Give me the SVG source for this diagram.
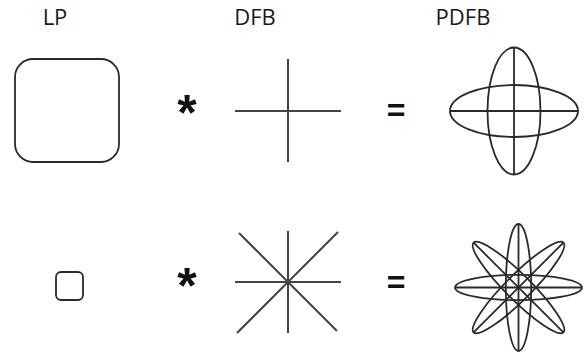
<svg xmlns="http://www.w3.org/2000/svg" width="586" height="356" viewBox="0 0 586 356">
  <style>
    .label { font-family: "Open Sans", "Liberation Sans", sans-serif; font-size: 22px; fill: #1a1a1a; text-anchor: middle; }
    .op { font-family: "Liberation Sans", Arial, sans-serif; font-weight: bold; fill: #111; text-anchor: middle; }
    .shape { fill: none; stroke: #2a2a2a; stroke-width: 1.8; }
    .ray { fill: none; stroke: #444; stroke-width: 2; }
  </style>
  <rect width="586" height="356" fill="#ffffff"/>

  <!-- column headings -->
  <g id="headings">
    <text class="label" x="55" y="25">LP</text>
    <text class="label" x="255" y="25">DFB</text>
    <text class="label" x="463" y="25">PDFB</text>
  </g>

  <!-- top row -->
  <g id="lp-large">
    <rect class="shape" x="15" y="59" width="104" height="103" rx="18"/>
  </g>
  <g id="op-conv-1">
    <text class="op" x="187" y="130" font-size="50">*</text>
  </g>
  <g id="dfb-cross">
    <line class="ray" x1="288" y1="59" x2="288" y2="162"/>
    <line class="ray" x1="235" y1="111" x2="341" y2="111"/>
  </g>
  <g id="op-eq-1">
    <text class="op" x="396" y="121" font-size="32">=</text>
  </g>
  <g id="pdfb-4">
    <ellipse class="shape" cx="514" cy="111" rx="26.5" ry="63.5"/>
    <ellipse class="shape" cx="514" cy="111" rx="64" ry="26"/>
    <line class="shape" x1="514" y1="47.5" x2="514" y2="174.5"/>
    <line class="shape" x1="450" y1="111" x2="578" y2="111"/>
  </g>

  <!-- bottom row -->
  <g id="lp-small">
    <rect class="shape" x="56" y="272" width="27" height="28" rx="5"/>
  </g>
  <g id="op-conv-2">
    <text class="op" x="187" y="303" font-size="50">*</text>
  </g>
  <g id="dfb-star">
    <line class="ray" x1="288" y1="231" x2="288" y2="333"/>
    <line class="ray" x1="235" y1="282" x2="341" y2="282"/>
    <line class="ray" x1="239" y1="233" x2="337" y2="331"/>
    <line class="ray" x1="338" y1="232" x2="237" y2="333"/>
  </g>
  <g id="op-eq-2">
    <text class="op" x="396" y="293" font-size="32">=</text>
  </g>
  <g id="pdfb-8" transform="translate(518.5 287.5)">
    <ellipse class="shape" rx="12.7" ry="63.5"/>
    <ellipse class="shape" rx="12.7" ry="63.5" transform="rotate(45)"/>
    <ellipse class="shape" rx="12.7" ry="63.5" transform="rotate(90)"/>
    <ellipse class="shape" rx="12.7" ry="63.5" transform="rotate(135)"/>
    <line class="shape" x1="0" y1="-63.5" x2="0" y2="63.5"/>
    <line class="shape" x1="0" y1="-63.5" x2="0" y2="63.5" transform="rotate(45)"/>
    <line class="shape" x1="0" y1="-63.5" x2="0" y2="63.5" transform="rotate(90)"/>
    <line class="shape" x1="0" y1="-63.5" x2="0" y2="63.5" transform="rotate(135)"/>
  </g>
</svg>
